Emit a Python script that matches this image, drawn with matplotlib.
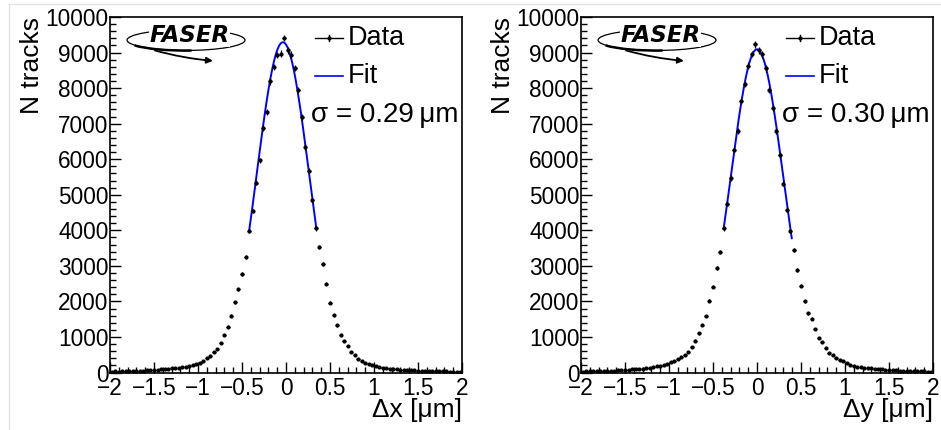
import matplotlib
matplotlib.use("Agg")
import matplotlib.pyplot as plt
import numpy as np
from matplotlib.patches import Ellipse, Arc, FancyArrowPatch
from matplotlib.lines import Line2D
from matplotlib.ticker import MultipleLocator, FuncFormatter

plt.rcParams['font.family'] = ['Liberation Sans', 'DejaVu Sans']

# histogram binning: 100 bins of 0.04 um between -2 and 2
bin_edges = np.linspace(-2, 2, 101)

counts_dx = [25, 30, 28, 35, 32, 38, 40, 45, 48, 55,
             60, 70, 80, 82, 98, 105, 110, 117, 127, 136,
             145, 164, 183, 211, 239, 276, 333, 399, 464, 568,
             652, 830, 1064, 1290, 1598, 1975, 2340, 2762, 3240, 3980,
             4543, 5340, 5970, 6890, 7340, 8190, 8595, 8930, 8970, 9410,
             9060, 8945, 8565, 7940, 7196, 6343, 5677, 4844, 4056, 3535,
             3060, 2500, 1960, 1615, 1330, 1046, 877, 740, 590, 480,
             390, 325, 265, 228, 213, 183, 148, 136, 127, 108,
             98, 89, 80, 72, 70, 78, 60, 55, 52, 48,
             45, 40, 42, 35, 33, 30, 28, 26, 22, 20]

counts_dy = [28, 30, 32, 35, 38, 36, 42, 45, 50, 55,
             60, 68, 80, 80, 89, 98, 98, 108, 117, 136,
             145, 173, 192, 202, 239, 286, 324, 380, 427, 480,
             577, 726, 900, 1100, 1336, 1589, 2015, 2414, 2948, 3385,
             4056, 4749, 5471, 6268, 6802, 7629, 8107, 8630, 8959, 9232,
             9063, 8951, 8557, 7947, 7432, 6802, 6118, 5311, 4580, 3980,
             3446, 2892, 2442, 2000, 1665, 1514, 1224, 980, 848, 689,
             539, 483, 399, 361, 324, 258, 220, 183, 155, 155,
             136, 127, 117, 108, 98, 98, 80, 72, 65, 60,
             55, 50, 45, 40, 38, 35, 32, 30, 28, 25]

# gaussian fit results: amplitude, mean, sigma, fit range
fit_dx = dict(amp=9290, mean=-0.035, sigma=0.295, lo=-0.42, hi=0.345)
fit_dy = dict(amp=9090, mean=0.0, sigma=0.298, lo=-0.38, hi=0.395)

xlabels = ["\u0394x [\u03bcm]", "\u0394y [\u03bcm]"]
sigma_labels = ["\u03c3 = 0.29\u2009\u03bcm", "\u03c3 = 0.30\u2009\u03bcm"]

FS = 16.3      # tick labels
LFS = 19       # axis titles
TFS = 19.5     # legend / sigma text

fig = plt.figure(figsize=(9.41, 4.30), dpi=100)
fig.patch.set_facecolor("white")

# faint canvas border
fig.add_artist(Line2D([9/941, 1], [1-4/430, 1-4/430], transform=fig.transFigure,
                      color="#e2e2e2", lw=1))
fig.add_artist(Line2D([9/941, 9/941], [0, 1-4/430], transform=fig.transFigure,
                      color="#e2e2e2", lw=1))

minus_fmt = FuncFormatter(lambda v, p: ("%g" % v).replace("-", "\u2212"))


def faser_logo(ax):
    t = ax.transAxes
    ax.add_patch(Ellipse((0.216, 0.935), 0.335, 0.058, transform=t, fill=False,
                         lw=0.9, color="black", clip_on=False))
    ax.add_patch(Arc((0.216, 0.933), 0.33, 0.055, transform=t,
                     lw=1.8, color="black", theta1=185, theta2=300, clip_on=False))
    ax.text(0.226, 0.948, "FASER", transform=t, ha="center", va="center",
            fontsize=16.5, fontweight="heavy", style="italic", color="black",
            family="DejaVu Sans",
            bbox=dict(boxstyle="square,pad=0.02", fc="white", ec="none"))
    ax.add_patch(FancyArrowPatch((0.12, 0.908), (0.30, 0.876), transform=t,
                                 arrowstyle="-|>", mutation_scale=9, lw=1.3,
                                 color="black", connectionstyle="arc3,rad=0.05"))


def panel(ax, counts, fit, xlabel, siglabel):
    counts = np.array(counts, dtype=float)
    centers = 0.5 * (bin_edges[:-1] + bin_edges[1:])
    half = 0.5 * np.diff(bin_edges)
    ax.errorbar(centers, counts, xerr=half, yerr=np.sqrt(counts), fmt="o",
                ms=2, color="black", elinewidth=0.9, capsize=0, zorder=3)
    xf = np.linspace(fit["lo"], fit["hi"], 200)
    yf = fit["amp"] * np.exp(-0.5 * ((xf - fit["mean"]) / fit["sigma"]) ** 2)
    ax.plot(xf, yf, color="#0000ff", lw=1.4, zorder=2)

    ax.set_xlim(-2, 2)
    ax.set_ylim(0, 10000)
    ax.xaxis.set_major_locator(MultipleLocator(0.5))
    ax.xaxis.set_minor_locator(MultipleLocator(0.1))
    ax.yaxis.set_major_locator(MultipleLocator(1000))
    ax.yaxis.set_minor_locator(MultipleLocator(200))
    ax.xaxis.set_major_formatter(minus_fmt)
    ax.tick_params(which="both", direction="in", top=False, right=False,
                   labelsize=FS, width=1)
    ax.tick_params(axis="x", which="major", length=8, pad=3)
    ax.tick_params(axis="y", which="major", length=8, pad=1)
    ax.tick_params(which="minor", length=4)
    for s in ax.spines.values():
        s.set_linewidth(1.2)

    ax.set_xlabel(xlabel, fontsize=LFS, loc="right", labelpad=-1)
    ax.set_ylabel("N tracks", fontsize=LFS, loc="top", labelpad=1)

    t = ax.transAxes
    # legend entries
    ax.plot([0.582, 0.662], [0.941, 0.941], transform=t, color="black", lw=1)
    ax.plot([0.622, 0.622], [0.933, 0.949], transform=t, color="black", lw=1)
    ax.plot([0.622], [0.941], transform=t, marker="o", ms=2, color="black")
    ax.text(0.676, 0.941, "Data", transform=t, ha="left", va="center", fontsize=TFS)
    ax.plot([0.582, 0.662], [0.834, 0.834], transform=t, color="#0000ff", lw=1.2)
    ax.text(0.676, 0.834, "Fit", transform=t, ha="left", va="center", fontsize=TFS)
    ax.text(0.571, 0.724, siglabel, transform=t, ha="left", va="center", fontsize=TFS + 0.5)
    faser_logo(ax)


ax1 = fig.add_axes([110/941, 57.5/430, 352/941, 355.5/430])
ax2 = fig.add_axes([581/941, 57.5/430, 352/941, 355.5/430])
panel(ax1, counts_dx, fit_dx, xlabels[0], sigma_labels[0])
panel(ax2, counts_dy, fit_dy, xlabels[1], sigma_labels[1])

fig.savefig("out.png", dpi=100, facecolor="white")
